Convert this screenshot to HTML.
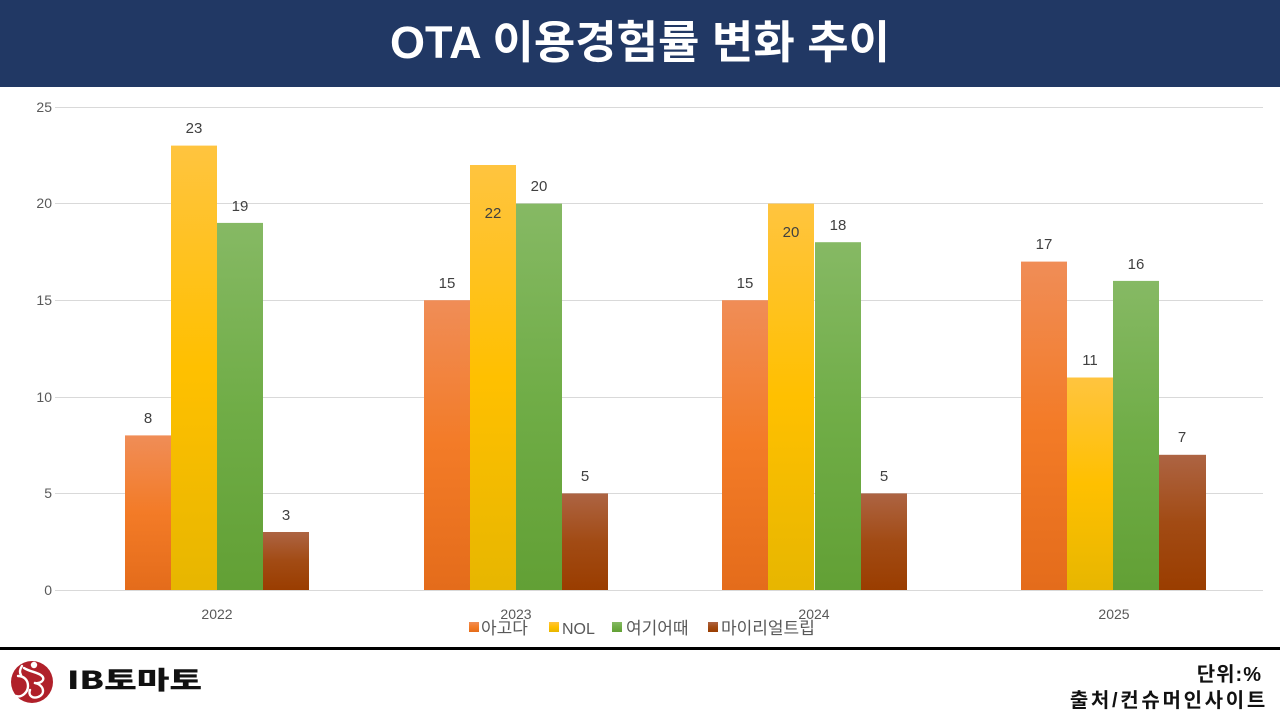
<!DOCTYPE html>
<html>
<head>
<meta charset="utf-8">
<style>
  html, body { margin:0; padding:0; }
  body { width:1280px; height:720px; position:relative; background:#ffffff; overflow:hidden;
         font-family:"Liberation Sans","Noto Sans CJK KR",sans-serif; }
  .header { position:absolute; left:0; top:0; width:1280px; height:87px; background:#213864; }
  .title { position:absolute; left:0; top:0; width:1280px; height:87px; line-height:85px; text-align:center;
           color:#fff; font-weight:bold; font-size:45px; font-family:"Liberation Sans","Noto Sans CJK KR",sans-serif; }
  .rule { position:absolute; left:0; top:647px; width:1280px; height:3px; background:#000; }
  .unit { position:absolute; right:18px; top:662px; text-align:right; font-weight:bold; font-size:20px; line-height:26px;
         color:#111; letter-spacing:1px; font-family:"Liberation Sans","Noto Sans CJK KR",sans-serif; }
  .src { position:absolute; right:12px; top:688px; text-align:right; font-weight:bold; font-size:20px; line-height:26px;
         color:#111; letter-spacing:2.7px; font-family:"Liberation Sans","Noto Sans CJK KR",sans-serif; white-space:nowrap; }
  .logo-text { position:absolute; left:67px; top:664px; font-weight:900; font-size:25px; line-height:30px; color:#111;
               transform:scaleX(1.42); transform-origin:left center; font-family:"Noto Sans CJK KR",sans-serif; letter-spacing:0px; white-space:nowrap; }
</style>
</head>
<body>
<div class="header"></div>
<div class="title">OTA 이용경험률 변화 추이</div>

<svg width="1280" height="720" style="position:absolute;left:0;top:0" xmlns="http://www.w3.org/2000/svg">
  <defs>
    <linearGradient id="gO" x1="0" y1="0" x2="0" y2="1">
      <stop offset="0" stop-color="#F08D57"/>
      <stop offset="0.5" stop-color="#F37B27"/>
      <stop offset="1" stop-color="#E46C1B"/>
    </linearGradient>
    <linearGradient id="gY" x1="0" y1="0" x2="0" y2="1">
      <stop offset="0" stop-color="#FFC43F"/>
      <stop offset="0.5" stop-color="#FFC000"/>
      <stop offset="1" stop-color="#E7B600"/>
    </linearGradient>
    <linearGradient id="gG" x1="0" y1="0" x2="0" y2="1">
      <stop offset="0" stop-color="#86B964"/>
      <stop offset="0.5" stop-color="#70AD47"/>
      <stop offset="1" stop-color="#62A035"/>
    </linearGradient>
    <linearGradient id="gB" x1="0" y1="0" x2="0" y2="1">
      <stop offset="0" stop-color="#AD6443"/>
      <stop offset="0.5" stop-color="#A24B14"/>
      <stop offset="1" stop-color="#9A3D00"/>
    </linearGradient>
  </defs>

  <g stroke="#D9D9D9" stroke-width="1">
    <line x1="55" y1="107.5" x2="1263" y2="107.5"/>
    <line x1="55" y1="203.5" x2="1263" y2="203.5"/>
    <line x1="55" y1="300.5" x2="1263" y2="300.5"/>
    <line x1="55" y1="397.5" x2="1263" y2="397.5"/>
    <line x1="55" y1="493.5" x2="1263" y2="493.5"/>
    <line x1="55" y1="590.5" x2="1263" y2="590.5"/>
  </g>

  <g font-family="Liberation Sans, Noto Sans CJK KR, sans-serif" font-size="14" fill="#595959" text-anchor="end">
    <text x="52" y="112">25</text>
    <text x="52" y="208">20</text>
    <text x="52" y="305">15</text>
    <text x="52" y="402">10</text>
    <text x="52" y="498">5</text>
    <text x="52" y="595">0</text>
  </g>

  <rect x="125" y="435.4" width="46" height="154.6" fill="url(#gO)"/>
  <rect x="171" y="145.6" width="46" height="444.4" fill="url(#gY)"/>
  <rect x="217" y="222.9" width="46" height="367.1" fill="url(#gG)"/>
  <rect x="263" y="532.0" width="46" height="58.0" fill="url(#gB)"/>

  <rect x="424" y="300.2" width="46" height="289.8" fill="url(#gO)"/>
  <rect x="470" y="165.0" width="46" height="425.0" fill="url(#gY)"/>
  <rect x="516" y="203.6" width="46" height="386.4" fill="url(#gG)"/>
  <rect x="562" y="493.4" width="46" height="96.6" fill="url(#gB)"/>

  <rect x="722" y="300.2" width="46" height="289.8" fill="url(#gO)"/>
  <rect x="768" y="203.6" width="46" height="386.4" fill="url(#gY)"/>
  <rect x="815" y="242.2" width="46" height="347.8" fill="url(#gG)"/>
  <rect x="861" y="493.4" width="46" height="96.6" fill="url(#gB)"/>

  <rect x="1021" y="261.6" width="46" height="328.4" fill="url(#gO)"/>
  <rect x="1067" y="377.5" width="46" height="212.5" fill="url(#gY)"/>
  <rect x="1113" y="280.9" width="46" height="309.1" fill="url(#gG)"/>
  <rect x="1159" y="454.8" width="47" height="135.2" fill="url(#gB)"/>

  <g font-family="Liberation Sans, Noto Sans CJK KR, sans-serif" font-size="15" fill="#404040" text-anchor="middle">
    <text x="148" y="423">8</text>
    <text x="194" y="133">23</text>
    <text x="240" y="211">19</text>
    <text x="286" y="520">3</text>

    <text x="447" y="288">15</text>
    <text x="493" y="218">22</text>
    <text x="539" y="191">20</text>
    <text x="585" y="481">5</text>

    <text x="745" y="288">15</text>
    <text x="791" y="237">20</text>
    <text x="838" y="230">18</text>
    <text x="884" y="481">5</text>

    <text x="1044" y="249">17</text>
    <text x="1090" y="365">11</text>
    <text x="1136" y="269">16</text>
    <text x="1182" y="442">7</text>
  </g>

  <g font-family="Liberation Sans, Noto Sans CJK KR, sans-serif" font-size="14" fill="#595959" text-anchor="middle">
    <text x="217" y="619">2022</text>
    <text x="516" y="619">2023</text>
    <text x="814" y="619">2024</text>
    <text x="1114" y="619">2025</text>
  </g>

  <g font-family="Liberation Sans, Noto Sans CJK KR, sans-serif" font-size="17" fill="#595959">
    <rect x="469" y="622" width="10" height="10" fill="url(#gO)"/>
    <text x="481" y="634">아고다</text>
    <rect x="549" y="622" width="10" height="10" fill="url(#gY)"/>
    <text x="562" y="634" font-size="16">NOL</text>
    <rect x="612" y="622" width="10" height="10" fill="url(#gG)"/>
    <text x="626" y="634">여기어때</text>
    <rect x="708" y="622" width="10" height="10" fill="url(#gB)"/>
    <text x="721" y="634">마이리얼트립</text>
  </g>

  <circle cx="32" cy="682" r="21" fill="#B0202A"/>
  <g fill="none" stroke="#ffffff" stroke-width="2.4" stroke-linecap="round">
    <circle cx="34" cy="665" r="3.2" fill="#ffffff" stroke="none"/>
    <path d="M24 668 C 30 672, 38 672, 42 676 C 46 680, 40 684, 35 683"/>
    <path d="M35 683 C 44 685, 46 694, 38 697 C 32 699, 28 695, 30 690"/>
    <path d="M18 676 C 24 676, 28 680, 28 686 C 28 692, 22 698, 16 696"/>
    <path d="M22 666 C 20 669, 19 672, 21 675"/>
  </g>
</svg>

<div class="rule"></div>
<div class="logo-text">IB토마토</div>
<div class="unit">단위:%</div>
<div class="src">출처/컨슈머인사이트</div>
</body>
</html>
